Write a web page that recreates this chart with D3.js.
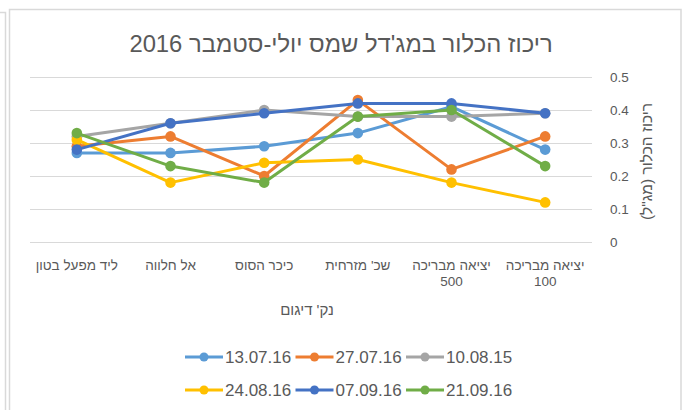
<!DOCTYPE html>
<html>
<head>
<meta charset="utf-8">
<script src="https://cdn.jsdelivr.net/npm/d3@7"></script>
<style>
  body { margin: 0; background: #fff; }
  svg { display: block; font-family: "Liberation Sans", Arial, sans-serif; }
</style>
</head>
<body>
<div id="chart"></div>
<script>
/* Chlorine levels, Majdal Shams, Jul-Sep 2016 */

// sampling points, first one is drawn on the right (reversed axis, like the excel sheet)
const categories = ["יציאה מבריכה 100", "יציאה מבריכה 500", "שכ' מזרחית", "כיכר הסוס", "אל חלווה", "ליד מפעל בטון"];

const seriesNames = ["13.07.16", "27.07.16", "10.08.15", "24.08.16", "07.09.16", "21.09.16"];
const seriesColors = ["#5B9BD5", "#ED7D31", "#A5A5A5", "#FFC000", "#4472C4", "#70AD47"];

const s130716 = [0.28, 0.41, 0.33, 0.29, 0.27, 0.27];
const s270716 = [0.32, 0.22, 0.43, 0.20, 0.32, 0.29];
const s100815 = [0.39, 0.38, 0.38, 0.40, 0.36, 0.32];
const s240816 = [0.12, 0.18, 0.25, 0.24, 0.18, 0.31];
const s070916 = [0.39, 0.42, 0.42, 0.39, 0.36, 0.28];
const s210916 = [0.23, 0.40, 0.38, 0.18, 0.23, 0.33];

const yTicks = [0, 0.1, 0.2, 0.3, 0.4, 0.5];
const yTickLabels = ["0", "0.1", "0.2", "0.3", "0.4", "0.5"];

const title = "ריכוז הכלור במג'דל שמס יולי-סטמבר 2016";
const xTitle = "נק' דיגום";
const yTitle = "ריכוז הכלור (מג\"ל)";

const allSeries = [s130716, s270716, s100815, s240816, s070916, s210916];
const series = seriesNames.map((name, i) => ({
    name: name,
    color: seriesColors[i],
    values: allSeries[i].map((v, j) => ({ cat: categories[j], value: v }))
}));

const width = 684, height = 410;
const plot = { left: 30, right: 592, top: 77, bottom: 242 };
const textColor = "#595959";

const svg = d3.select("#chart")
    .append("svg")
    .attr("width", width)
    .attr("height", height);

// frames from the spreadsheet
svg.append("rect")
    .attr("x", 9.5).attr("y", 9.5)
    .attr("width", 671.5).attr("height", 440)
    .attr("fill", "#fff")
    .attr("stroke", "#d9d9d9")
    .attr("stroke-width", 1.5);
svg.append("path")
    .attr("d", "M0,12.5H5.5V410")
    .attr("fill", "none")
    .attr("stroke", "#d9d9d9")
    .attr("stroke-width", 1.5);

// scales: x reversed so first category sits on the right
const x = d3.scalePoint()
    .domain(categories.slice().reverse())
    .range([plot.left, plot.right])
    .padding(0.5);

const y = d3.scaleLinear()
    .domain([0, 0.5])
    .range([plot.bottom, plot.top]);

// gridlines
svg.append("g")
    .selectAll("line")
    .data(yTicks)
    .join("line")
    .attr("x1", plot.left)
    .attr("x2", plot.right)
    .attr("y1", d => Math.round(y(d)) + 0.5)
    .attr("y2", d => Math.round(y(d)) + 0.5)
    .attr("stroke", "#d9d9d9")
    .attr("stroke-width", 1);

// y axis on the right, no domain line
const yAxis = svg.append("g")
    .attr("transform", `translate(${plot.right + 18},0)`)
    .call(d3.axisRight(y).tickValues(yTicks).tickSize(0).tickPadding(0)
        .tickFormat((d, i) => yTickLabels[i]));
yAxis.select(".domain").remove();
yAxis.selectAll("text")
    .attr("fill", textColor)
    .attr("font-size", 13.5)
    .attr("font-family", "Liberation Sans, Arial, sans-serif");

// x labels, wrapped to the band width
const band = x.step();
const xLabels = svg.append("g")
    .attr("font-size", 13.5)
    .attr("fill", textColor)
    .attr("text-anchor", "middle")
    .selectAll("text")
    .data(categories)
    .join("text")
    .attr("direction", "rtl")
    .attr("x", d => x(d))
    .attr("y", 270);

xLabels.each(function(d) {
    const t = d3.select(this);
    const words = d.split(" ");
    let line = [];
    let tspan = t.append("tspan").attr("x", x(d)).attr("dy", 0);
    for (let w of words) {
        line.push(w);
        tspan.text(line.join(" "));
        if (tspan.node().getComputedTextLength() > band + 4 && line.length > 1) {
            line.pop();
            tspan.text(line.join(" "));
            line = [w];
            tspan = t.append("tspan").attr("x", x(d)).attr("dy", "1.22em").text(w);
        }
    }
});

// axis titles
svg.append("text")
    .attr("direction", "rtl")
    .attr("x", 307)
    .attr("y", 315)
    .attr("text-anchor", "middle")
    .attr("font-size", 15)
    .attr("fill", textColor)
    .text(xTitle);

svg.append("text")
    .attr("direction", "rtl")
    .attr("transform", `translate(652,${(plot.top + plot.bottom) / 2 + 2}) rotate(-90)`)
    .attr("text-anchor", "middle")
    .attr("font-size", 15.5)
    .attr("fill", textColor)
    .text(yTitle);

// chart title
svg.append("text")
    .attr("direction", "rtl")
    .attr("x", 341)
    .attr("y", 52)
    .attr("text-anchor", "middle")
    .attr("font-size", 23.8)
    .attr("fill", textColor)
    .text(title);

// lines + markers
const line = d3.line()
    .x(d => x(d.cat))
    .y(d => y(d.value));

const g = svg.append("g")
    .selectAll("g")
    .data(series)
    .join("g");

g.append("path")
    .attr("d", d => line(d.values))
    .attr("fill", "none")
    .attr("stroke", d => d.color)
    .attr("stroke-width", 3)
    .attr("stroke-linejoin", "round")
    .attr("stroke-linecap", "round");

g.selectAll("circle")
    .data(d => d.values.map(v => ({ ...v, color: d.color })))
    .join("circle")
    .attr("cx", d => x(d.cat))
    .attr("cy", d => y(d.value))
    .attr("r", 5.3)
    .attr("fill", d => d.color);

// legend, 3 per row
const legend = svg.append("g")
    .selectAll("g")
    .data(series)
    .join("g")
    .attr("transform", (d, i) => `translate(${185 + (i % 3) * 110.5},${357 + Math.floor(i / 3) * 33})`);

legend.append("line")
    .attr("x1", 0).attr("x2", 38)
    .attr("stroke", d => d.color)
    .attr("stroke-width", 3);
legend.append("circle")
    .attr("cx", 19)
    .attr("r", 4.5)
    .attr("fill", d => d.color);
legend.append("text")
    .attr("x", 40)
    .attr("dy", "0.36em")
    .attr("font-size", 17)
    .attr("fill", textColor)
    .text(d => d.name);
</script>
</body>
</html>
